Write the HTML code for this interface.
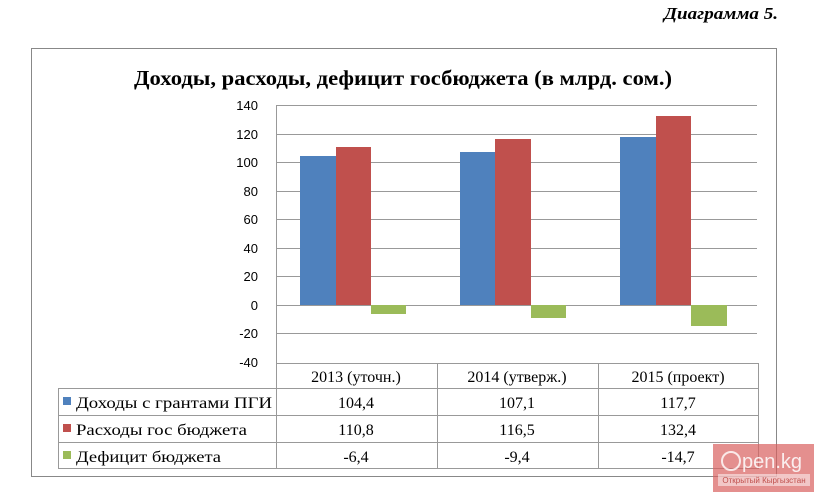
<!DOCTYPE html>
<html><head><meta charset="utf-8"><style>body{margin:0;background:#fff}</style></head>
<body>
<svg width="814" height="499" xmlns="http://www.w3.org/2000/svg" font-family="Liberation Serif, serif">
<rect width="814" height="499" fill="#fff"/>
<text x="778" y="19" text-anchor="end" font-size="17" font-weight="bold" font-style="italic" textLength="114" lengthAdjust="spacingAndGlyphs">Диаграмма 5.</text>
<rect x="31.5" y="48.5" width="745" height="428" fill="none" stroke="#888"/>
<text x="403" y="85" text-anchor="middle" font-size="21" font-weight="bold" textLength="538" lengthAdjust="spacingAndGlyphs">Доходы, расходы, дефицит госбюджета (в млрд. сом.)</text>
<g stroke="#999" stroke-width="1">
<line x1="276" x2="757" y1="105.5" y2="105.5"/>
<line x1="276" x2="757" y1="134.5" y2="134.5"/>
<line x1="276" x2="757" y1="162.5" y2="162.5"/>
<line x1="276" x2="757" y1="191.5" y2="191.5"/>
<line x1="276" x2="757" y1="219.5" y2="219.5"/>
<line x1="276" x2="757" y1="248.5" y2="248.5"/>
<line x1="276" x2="757" y1="276.5" y2="276.5"/>
<line x1="276" x2="757" y1="305.5" y2="305.5"/>
<line x1="276" x2="757" y1="333.5" y2="333.5"/>
<line x1="276.5" x2="276.5" y1="105" y2="363"/>
</g>
<g font-family="Liberation Sans, sans-serif" font-size="13" text-anchor="end">
<text x="258" y="110">140</text><text x="258" y="139">120</text><text x="258" y="167">100</text>
<text x="258" y="196">80</text><text x="258" y="224">60</text><text x="258" y="253">40</text>
<text x="258" y="281">20</text><text x="258" y="310">0</text><text x="258" y="338">-20</text>
<text x="258" y="367">-40</text>
</g>
<g>
<rect x="300" y="156" width="36" height="149" fill="#4f81bd"/>
<rect x="336" y="147" width="35" height="158" fill="#c0504d"/>
<rect x="371" y="305" width="35" height="9" fill="#9bbb59"/>
<rect x="460" y="152" width="35" height="153" fill="#4f81bd"/>
<rect x="495" y="139" width="36" height="166" fill="#c0504d"/>
<rect x="531" y="305" width="35" height="13" fill="#9bbb59"/>
<rect x="620" y="137" width="36" height="168" fill="#4f81bd"/>
<rect x="656" y="116" width="35" height="189" fill="#c0504d"/>
<rect x="691" y="305" width="36" height="21" fill="#9bbb59"/>
</g>
<g stroke="#999" fill="none">
<rect x="276.5" y="363.5" width="482" height="105"/>
<rect x="58.5" y="388.5" width="700" height="80"/>
<line x1="437.5" x2="437.5" y1="363" y2="469"/>
<line x1="598.5" x2="598.5" y1="363" y2="469"/>
<line x1="58" x2="759" y1="415.5" y2="415.5"/>
<line x1="58" x2="759" y1="442.5" y2="442.5"/>
</g>
<g font-size="16" text-anchor="middle">
<text x="356" y="382">2013 (уточн.)</text><text x="517" y="382">2014 (утверж.)</text><text x="678" y="382">2015 (проект)</text>
<text x="356" y="408">104,4</text><text x="517" y="408">107,1</text><text x="678" y="408">117,7</text>
<text x="356" y="435">110,8</text><text x="517" y="435">116,5</text><text x="678" y="435">132,4</text>
<text x="356" y="462">-6,4</text><text x="517" y="462">-9,4</text><text x="678" y="462">-14,7</text>
</g>
<rect x="63" y="397" width="8" height="8" fill="#4f81bd"/>
<rect x="63" y="424" width="8" height="8" fill="#c0504d"/>
<rect x="63" y="451" width="8" height="8" fill="#9bbb59"/>
<g font-size="16">
<text x="76" y="408" textLength="196" lengthAdjust="spacingAndGlyphs">Доходы с грантами ПГИ</text>
<text x="76" y="435" textLength="171" lengthAdjust="spacingAndGlyphs">Расходы гос бюджета</text>
<text x="76" y="462" textLength="145" lengthAdjust="spacingAndGlyphs">Дефицит бюджета</text>
</g>
<rect x="713" y="444" width="101" height="48" fill="#d9605e" opacity="0.7"/>
<circle cx="731" cy="461" r="9" fill="none" stroke="#fff" stroke-width="2" opacity="0.8"/>
<text x="742" y="468" font-family="Liberation Sans, sans-serif" font-size="20" fill="#fff" opacity="0.85">pen.kg</text>
<rect x="718" y="474" width="92" height="12" fill="#fff" opacity="0.5"/>
<text x="764" y="483" text-anchor="middle" font-family="Liberation Sans, sans-serif" font-size="8" fill="#c0504d">Открытый Кыргызстан</text>
</svg>
</body></html>
